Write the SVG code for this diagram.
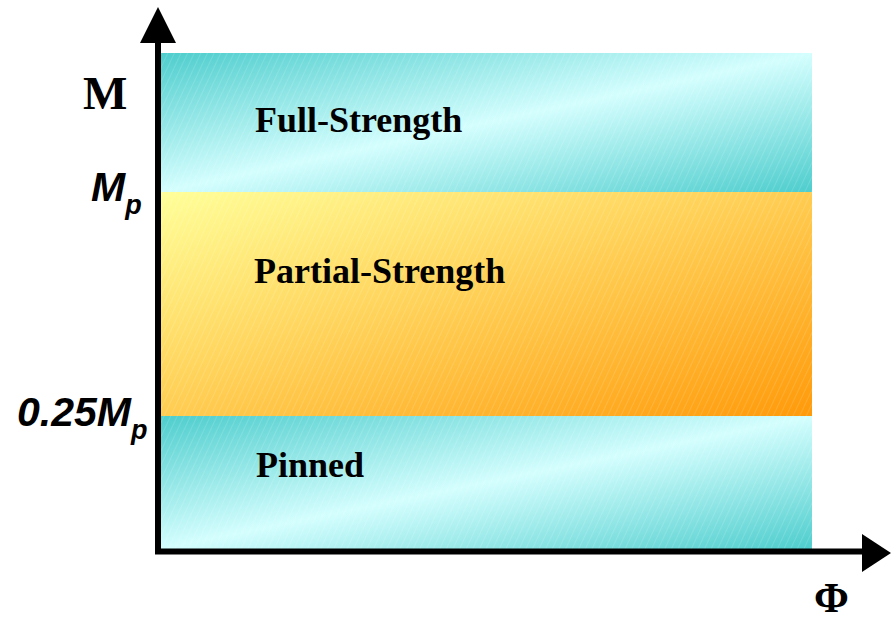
<svg xmlns="http://www.w3.org/2000/svg" width="891" height="623" viewBox="0 0 891 623">
<defs>
<linearGradient id="teal" x1="0" y1="0" x2="1" y2="1">
<stop offset="0" stop-color="#4ECDCD"/>
<stop offset="0.5" stop-color="#D4FEFE"/>
<stop offset="1" stop-color="#4ECDCD"/>
</linearGradient>
<linearGradient id="warm" x1="0" y1="0" x2="1" y2="1">
<stop offset="0" stop-color="#FFFF99"/>
<stop offset="1" stop-color="#FF9A0A"/>
</linearGradient>
<pattern id="hatch" width="6" height="6" patternUnits="userSpaceOnUse" patternTransform="rotate(25)">
<line x1="0" y1="0" x2="0" y2="6" stroke="#ffffff" stroke-width="1.5" stroke-opacity="0.18"/>
</pattern>
</defs>
<style>
.lbl{font-family:"Liberation Serif","Times New Roman",serif;font-weight:bold;fill:#000}
.ax{font-family:"Liberation Sans",Arial,sans-serif;font-weight:bold;font-style:italic;fill:#000}
</style>
<rect width="891" height="623" fill="#ffffff"/>
<g id="full-strength">
<rect x="161" y="53" width="651" height="139" fill="url(#teal)"/>
<rect x="161" y="53" width="651" height="139" fill="url(#hatch)"/>
<text class="lbl" x="255" y="132" font-size="36">Full-Strength</text>
</g>
<g id="partial-strength">
<rect x="161" y="192" width="651" height="224" fill="url(#warm)"/>
<rect x="161" y="192" width="651" height="224" fill="url(#hatch)"/>
<text class="lbl" x="254" y="283" font-size="36">Partial-Strength</text>
</g>
<g id="pinned">
<rect x="161" y="416" width="651" height="133" fill="url(#teal)"/>
<rect x="161" y="416" width="651" height="133" fill="url(#hatch)"/>
<text class="lbl" x="256" y="477" font-size="36">Pinned</text>
</g>
<g id="axes">
<line x1="158" y1="40" x2="158" y2="554" stroke="#000" stroke-width="6"/>
<polygon points="158,7 176,43 140,43" fill="#000"/>
<line x1="155" y1="551.5" x2="865" y2="551.5" stroke="#000" stroke-width="6"/>
<polygon points="891,553 862,534 862,572" fill="#000"/>
</g>
<g id="labels">
<text class="lbl" x="83" y="109" font-size="47">M</text>
<text class="ax" x="91" y="201" font-size="41">M<tspan font-size="27" dy="13">p</tspan></text>
<text class="ax" x="17" y="426" font-size="41">0.25M<tspan font-size="27" dy="13">p</tspan></text>
<text class="lbl" x="814" y="612" font-size="42">Φ</text>
</g>
</svg>
